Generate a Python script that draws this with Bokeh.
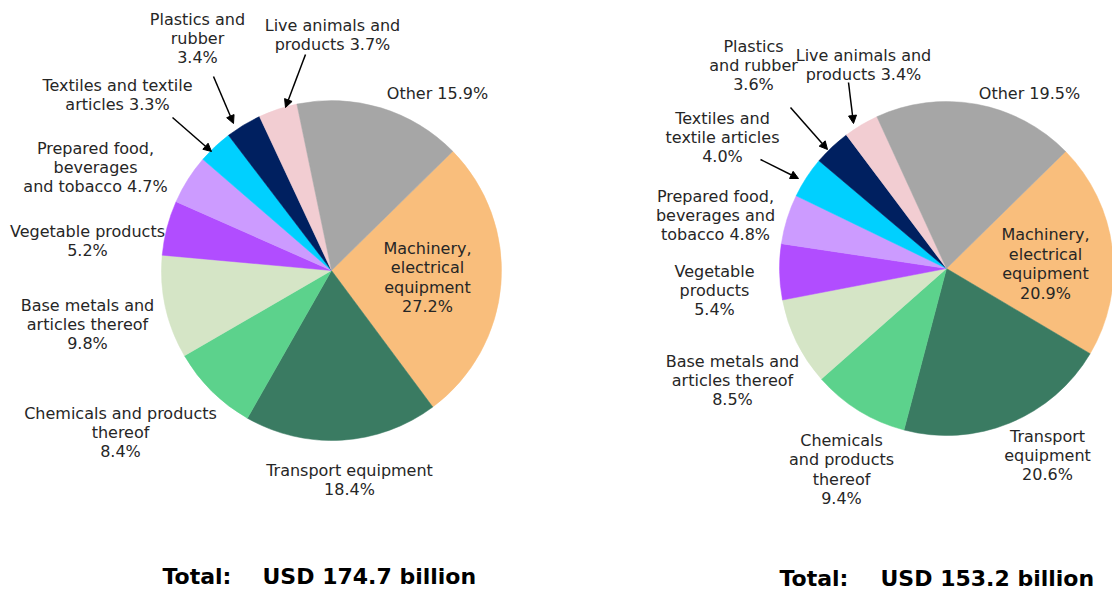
import math
from bokeh.plotting import figure
from bokeh.models import Range1d, Arrow, NormalHead, ColumnDataSource
from bokeh.core.properties import value
from bokeh.embed import file_html
from bokeh.resources import INLINE

# ---------------- data ----------------
categories = ["Machinery, electrical equipment", "Transport equipment",
              "Chemicals and products thereof", "Base metals and articles thereof",
              "Vegetable products", "Prepared food, beverages and tobacco",
              "Textiles and textile articles", "Plastics and rubber",
              "Live animals and products", "Other"]
share_left = [27.2, 18.4, 8.4, 9.8, 5.2, 4.7, 3.3, 3.4, 3.7, 15.9]
share_right = [20.9, 20.6, 9.4, 8.5, 5.4, 4.8, 4.0, 3.6, 3.4, 19.5]
total_left = "USD 174.7 billion"
total_right = "USD 153.2 billion"
colors = ["#F9BE7C", "#3A7B62", "#5CD28C", "#D5E5C6", "#B14DFF",
          "#CC9BFF", "#00D0FF", "#002060", "#F2CDD2", "#A6A6A6"]
names_left = ["Machinery,\nelectrical\nequipment\n", "Transport equipment\n",
              "Chemicals and products\nthereof\n", "Base metals and\narticles thereof\n",
              "Vegetable products\n", "Prepared food,\nbeverages\nand tobacco ",
              "Textiles and textile\narticles ", "Plastics and\nrubber\n",
              "Live animals and\nproducts ", "Other "]
names_right = ["Machinery,\nelectrical\nequipment\n", "Transport\nequipment\n",
               "Chemicals\nand products\nthereof\n", "Base metals and\narticles thereof\n",
               "Vegetable\nproducts\n", "Prepared food,\nbeverages and\ntobacco ",
               "Textiles and\ntextile articles\n", "Plastics\nand rubber\n",
               "Live animals and\nproducts ", "Other "]

# ---------------- layout (screen px) ----------------
W, H = 1112, 591
def Y(sy):
    return H - sy

pies = [
    dict(cx=331, cy=270, r=170, shares=share_left, names=names_left,
         lx=[427, 349, 120, 87, 87, 95, 117, 197, 332, 437],
         ly=[277, 479.5, 432, 324, 240.5, 167, 94.5, 38, 34.5, 93],
         arrows=[(172, 117, 211, 151), (213, 76, 233, 123), (305, 54, 285, 107)],
         total=total_left, tx=162, ux=262, ty=576),
    dict(cx=946, cy=268, r=167, shares=share_right, names=names_right,
         lx=[1045, 1047, 841, 732, 714, 715, 722, 753, 863, 1029],
         ly=[263.5, 455, 469, 380, 290, 215, 137, 65, 64.5, 93],
         arrows=[(760, 159, 798, 178), (790, 107, 827, 149), (848, 82, 853, 123)],
         total=total_right, tx=779, ux=880, ty=578),
]

p = figure(width=W, height=H, x_range=Range1d(0, W), y_range=Range1d(0, H),
           output_backend="svg", toolbar_location=None,
           x_axis_location=None, y_axis_location=None, min_border=0)
p.grid.visible = False
p.outline_line_color = None
p.background_fill_color = "white"
p.border_fill_color = "white"

START = math.radians(44.5)
FONT = value("DejaVu Sans")

for pie in pies:
    shares = pie["shares"]
    tot = sum(shares)
    starts, ends = [], []
    cum = 0.0
    for v in shares:
        a0 = START - 2 * math.pi * cum / tot
        cum += v
        a1 = START - 2 * math.pi * cum / tot
        starts.append(a0)
        ends.append(a1)
    src = ColumnDataSource(dict(cat=categories, share=shares, start=starts, end=ends,
                                color=colors))
    p.wedge(x=pie["cx"], y=Y(pie["cy"]), radius=pie["r"], start_angle="start",
            end_angle="end", direction="clock", fill_color="color",
            line_color="color", line_width=0.5, source=src)

    labels = [n + f"{v:.1f}%" for n, v in zip(pie["names"], shares)]
    lsrc = ColumnDataSource(dict(x=pie["lx"], y=[Y(v) for v in pie["ly"]], t=labels))
    p.text(x="x", y="y", text="t", source=lsrc, text_font=FONT,
           text_font_size="16px", text_color="#262626", text_align="center",
           text_baseline="middle", text_line_height=1.02)

    for (x0, y0, x1, y1) in pie["arrows"]:
        p.add_layout(Arrow(x_start=x0, y_start=Y(y0), x_end=x1, y_end=Y(y1),
                           line_color="black", line_width=1.5,
                           end=NormalHead(size=8, fill_color="black",
                                          line_color="black", line_width=1)))

    p.text(x=[pie["tx"]], y=[Y(pie["ty"])], text=["Total:"], text_font=FONT,
           text_font_size="22px", text_font_style="bold", text_color="black",
           text_align="left", text_baseline="middle")
    p.text(x=[pie["ux"]], y=[Y(pie["ty"])], text=[pie["total"]], text_font=FONT,
           text_font_size="22px", text_font_style="bold", text_color="black",
           text_align="left", text_baseline="middle")

open("out.html", "w").write(file_html(p, INLINE))
